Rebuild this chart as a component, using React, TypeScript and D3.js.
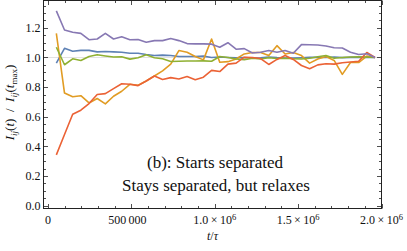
import React from 'react';
import * as d3 from 'd3';

// sample times t (in units of tau)
const tValues = [
  50000, 99000, 148000, 197000, 246000, 295000, 344000, 393000, 442000, 491000,
  540000, 589000, 638000, 687000, 736000, 785000, 834000, 883000, 932000, 981000,
  1030000, 1079000, 1128000, 1177000, 1226000, 1275000, 1324000, 1373000, 1422000, 1471000,
  1520000, 1569000, 1618000, 1667000, 1716000, 1765000, 1814000, 1863000, 1912000, 1961000,
];

const blueSeries = [
  0.962, 1.062, 1.042, 1.048, 1.048, 1.038, 1.04, 1.038, 1.035, 1.029,
  1.029, 1.02, 1.013, 1.016, 1.013, 1.007, 1.007, 1.007, 1.009, 1.0,
  1.003, 1.0, 0.998, 1.0, 0.997, 0.998, 1.003, 0.999, 0.997, 0.996,
  0.998, 1.001, 1.002, 1.0, 1.003, 0.999, 1.001, 1.002, 1.0, 1.0,
];

const orangeSeries = [
  1.163, 0.76, 0.735, 0.742, 0.693, 0.723, 0.687, 0.738, 0.772, 0.819,
  0.812, 0.841, 0.875, 0.91, 0.955, 1.047, 1.036, 1.007, 0.984, 1.125,
  0.968, 0.972, 0.99, 1.024, 1.034, 1.034, 1.013, 1.08, 1.024, 1.034,
  1.013, 0.962, 0.99, 1.007, 0.98, 0.886, 0.966, 0.966, 1.01, 1.0,
];

const greenSeries = [
  1.069, 0.951, 0.991, 0.98, 1.007, 1.018, 1.01, 1.003, 1.005, 0.989,
  0.998, 1.018, 0.998, 0.991, 0.973, 0.975, 0.976, 0.976, 0.977, 0.975,
  1.007, 1.0, 0.99, 0.985, 0.995, 0.99, 0.998, 0.993, 0.995, 0.992,
  0.99, 0.995, 1.005, 1.013, 0.995, 1.0, 1.003, 1.005, 1.003, 1.0,
];

const redSeries = [
  0.342, 0.48, 0.617, 0.644, 0.689, 0.75, 0.756, 0.79, 0.823, 0.819,
  0.81, 0.841, 0.875, 0.852, 0.864, 0.855, 0.872, 0.85, 0.867, 0.913,
  0.905, 0.955, 0.962, 1.002, 1.0, 0.993, 0.953, 0.987, 1.013, 0.987,
  0.946, 0.924, 0.95, 0.958, 0.955, 0.965, 0.97, 0.975, 1.034, 1.0,
];

const purpleSeries = [
  1.315, 1.186, 1.17, 1.163, 1.12, 1.125, 1.163, 1.125, 1.14, 1.12,
  1.121, 1.103, 1.114, 1.114, 1.128, 1.114, 1.094, 1.092, 1.092, 1.09,
  1.069, 1.1, 1.056, 1.06, 1.03, 1.035, 1.047, 1.035, 1.047, 1.029,
  1.087, 1.086, 1.084, 1.078, 1.066, 1.064, 1.036, 1.02, 1.025, 1.0,
];

const seriesList = [
  { values: blueSeries, color: '#5E81B5' },
  { values: orangeSeries, color: '#E19C24' },
  { values: greenSeries, color: '#8FB032' },
  { values: redSeries, color: '#EB6235' },
  { values: purpleSeries, color: '#8778B3' },
];

const yTickLabels = ['0.0', '0.2', '0.4', '0.6', '0.8', '1.0', '1.2'];
const yTickValues = [0, 0.2, 0.4, 0.6, 0.8, 1.0, 1.2];
const xTickValues = [0, 500000, 1000000, 1500000, 2000000];

const W = 407;
const H = 251;
const frame = { left: 43.5, right: 381.5, top: 0.5, bottom: 208.5 };
const serif = "'Liberation Serif', 'Times New Roman', serif";

const x = d3.scaleLinear().domain([-27000, 2000000]).range([frame.left, frame.right]);
const y = d3.scaleLinear().domain([-0.02, 1.385]).range([frame.bottom, frame.top]);

const xMinor = d3.range(0, 2000001, 100000);
const yMinor = d3.range(0, 1.3751, 0.05);

const App = () => {
  const line = (vals: number[]) =>
    d3.line<number>()
      .x((_, i) => x(tValues[i]))
      .y(d => y(d))(vals) || '';

  const isMajorX = (v: number) => v % 500000 === 0;
  const isMajorY = (v: number) => Math.abs(v * 5 - Math.round(v * 5)) < 1e-6;

  const xTickLabel = (v: number) => {
    if (v === 0) return <tspan>0</tspan>;
    if (v === 500000) return <tspan>500&#8201;000</tspan>;
    const m = (v / 1e6).toFixed(1);
    return (
      <>
        <tspan>{m}{'\u2009×\u2009'}10</tspan>
        <tspan fontSize={8.5} dy={-4.5}>6</tspan>
      </>
    );
  };

  return (
    <svg width={W} height={H} style={{ position: 'absolute', left: 0, top: 0, background: '#fff' }}
      fontFamily={serif}>
      <defs>
        <clipPath id="plotClip">
          <rect x={frame.left} y={frame.top} width={frame.right - frame.left} height={frame.bottom - frame.top} />
        </clipPath>
      </defs>

      {/* reference line at 1 */}
      <line x1={frame.left} x2={frame.right} y1={y(1)} y2={y(1)} stroke="#e2e2e2" strokeWidth={1} />

      <g clipPath="url(#plotClip)">
        {seriesList.map((s, i) => (
          <path key={i} d={line(s.values)} fill="none" stroke={s.color} strokeWidth={1.6}
            strokeLinejoin="round" />
        ))}
      </g>

      {/* frame */}
      <rect x={frame.left} y={frame.top} width={frame.right - frame.left} height={frame.bottom - frame.top}
        fill="none" stroke="#222" strokeWidth={1} />

      {/* x ticks, bottom and top */}
      {xMinor.map(v => {
        const len = isMajorX(v) ? 4.5 : 2.5;
        const px = Math.round(x(v)) + 0.5;
        return (
          <g key={'xt' + v} stroke="#222" strokeWidth={0.8}>
            <line x1={px} x2={px} y1={frame.bottom} y2={frame.bottom - len} />
            <line x1={px} x2={px} y1={frame.top} y2={frame.top + len} />
          </g>
        );
      })}
      {/* y ticks, left and right */}
      {yMinor.map(v => {
        const len = isMajorY(v) ? 4.5 : 2.5;
        const py = Math.round(y(v)) + 0.5;
        return (
          <g key={'yt' + v} stroke="#222" strokeWidth={0.8}>
            <line x1={frame.left} x2={frame.left + len} y1={py} y2={py} />
            <line x1={frame.right} x2={frame.right - len} y1={py} y2={py} />
          </g>
        );
      })}

      {/* y tick labels */}
      {yTickValues.map((v, i) => (
        <text key={'yl' + i} x={40.5} y={y(v)} dy="0.35em" textAnchor="end" fontSize={12} fill="#111">
          {yTickLabels[i]}
        </text>
      ))}

      {/* x tick labels */}
      {xTickValues.map((v, i) => (
        <text key={'xl' + i} x={v === 500000 ? x(v) - 4 : x(v)} y={224} textAnchor="middle" fontSize={12} fill="#111">
          {xTickLabel(v)}
        </text>
      ))}

      {/* axis labels */}
      <text x={(frame.left + frame.right) / 2} y={240} textAnchor="middle" fontSize={12} fill="#111">
        <tspan fontStyle="italic">t</tspan>/<tspan fontStyle="italic">τ</tspan>
      </text>
      <text transform={`translate(14,${102.5}) rotate(-90)`} textAnchor="middle" fontSize={13} fill="#111">
        <tspan fontStyle="italic">I</tspan>
        <tspan fontSize={9} dy={2.5} fontStyle="italic">ij</tspan>
        <tspan dy={-2.5}>(</tspan><tspan fontStyle="italic">t</tspan><tspan>){'\u2002/\u2002'}</tspan>
        <tspan fontStyle="italic">I</tspan>
        <tspan fontSize={9} dy={2.5} fontStyle="italic">ij</tspan>
        <tspan dy={-2.5}>(</tspan><tspan fontStyle="italic">t</tspan>
        <tspan fontSize={9} dy={2.5}>max</tspan>
        <tspan dy={-2.5}>)</tspan>
      </text>

      {/* annotation */}
      <text x={215} y={168} textAnchor="middle" fontSize={17} fill="#111">(b): Starts separated</text>
      <text x={216} y={191} textAnchor="middle" fontSize={17} fill="#111">Stays separated, but relaxes</text>
    </svg>
  );
};

export default App;
